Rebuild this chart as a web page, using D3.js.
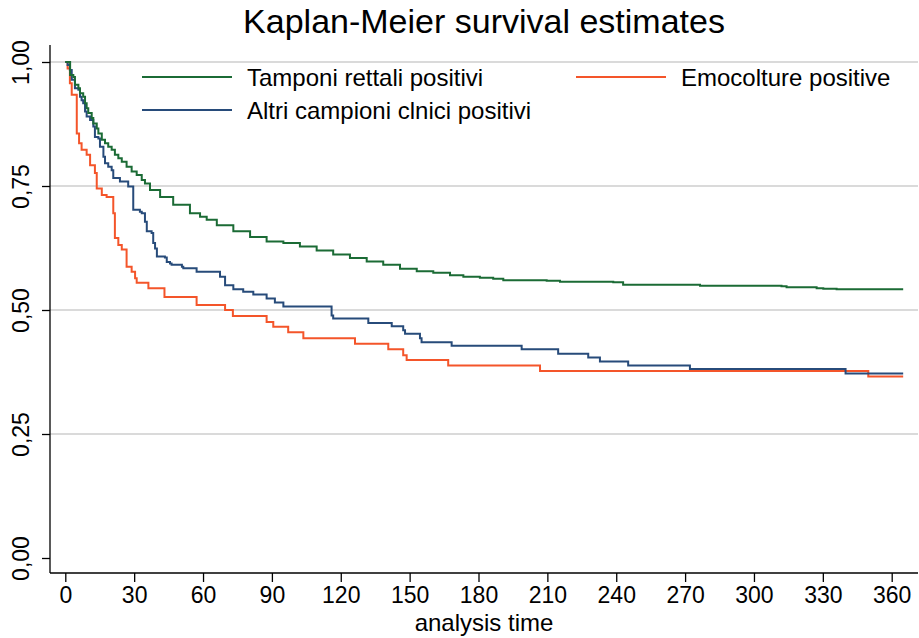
<!DOCTYPE html>
<html>
<head>
<meta charset="utf-8">
<script src="https://cdn.jsdelivr.net/npm/d3@7"></script>
<style>
  html, body { margin: 0; padding: 0; background: #fff; }
  svg { display: block; font-family: "Liberation Sans", Arial, sans-serif; }
</style>
</head>
<body>
<svg id="chart" width="919" height="638"></svg>
<script>
// ---- data ----
const seriesNames = ["Tamponi rettali positivi", "Altri campioni clnici positivi", "Emocolture positive"];
const seriesColors = ["#1b6b35", "#274b7a", "#f4552a"];

const tamponiTime = [0, 2.1, 3.5, 4.2, 5.7, 6.4, 7.8, 8.6, 9.3, 10.0, 11.5, 12.2, 13.7, 14.4, 15.9, 17.3, 18.7, 20.2, 21.6, 23.1, 24.6, 26.7, 28.9, 31.1, 33.3, 34.7, 36.9, 41.3, 47.0, 54.3, 58.7, 61.6, 66.0, 73.2, 80.5, 87.7, 95.0, 102.2, 109.5, 116.7, 124.0, 131.3, 138.5, 145.8, 153.1, 160.3, 167.6, 173.4, 180.6, 186.4, 190.8, 209.7, 215.5, 238.7, 243.0, 276.5, 312.0, 314.2, 327.3, 330.2, 336.0, 365];
const tamponiSurv = [1, 0.974, 0.970, 0.954, 0.947, 0.937, 0.930, 0.917, 0.907, 0.897, 0.887, 0.876, 0.866, 0.856, 0.843, 0.836, 0.829, 0.823, 0.813, 0.806, 0.799, 0.789, 0.779, 0.772, 0.762, 0.755, 0.742, 0.728, 0.712, 0.695, 0.688, 0.682, 0.671, 0.659, 0.647, 0.638, 0.635, 0.628, 0.620, 0.612, 0.605, 0.598, 0.591, 0.583, 0.578, 0.575, 0.570, 0.567, 0.565, 0.563, 0.560, 0.559, 0.557, 0.556, 0.551, 0.549, 0.548, 0.546, 0.544, 0.543, 0.542, 0.542];

const altriTime = [0, 1.0, 2.0, 2.8, 4.2, 5.7, 6.4, 7.1, 7.8, 8.6, 9.3, 10.8, 12.2, 12.9, 14.4, 15.1, 16.6, 17.3, 18.7, 20.2, 20.9, 23.8, 27.4, 29.6, 32.5, 33.3, 34.7, 35.5, 37.6, 38.3, 39.1, 39.9, 43.4, 44.2, 45.6, 46.3, 50.8, 51.4, 57.2, 67.4, 69.6, 73.2, 77.5, 81.9, 87.7, 91.3, 95.0, 116.0, 116.7, 132.0, 142.2, 147.2, 148.0, 154.5, 155.2, 168.3, 198.8, 214.7, 227.8, 232.9, 245.2, 272.1, 339.9, 365];
const altriSurv = [1, 0.994, 0.984, 0.964, 0.947, 0.944, 0.930, 0.923, 0.917, 0.900, 0.890, 0.883, 0.870, 0.849, 0.846, 0.829, 0.809, 0.796, 0.789, 0.782, 0.766, 0.759, 0.749, 0.702, 0.698, 0.695, 0.678, 0.659, 0.655, 0.635, 0.624, 0.608, 0.606, 0.597, 0.594, 0.591, 0.587, 0.584, 0.577, 0.567, 0.550, 0.542, 0.537, 0.531, 0.523, 0.515, 0.507, 0.489, 0.483, 0.474, 0.467, 0.459, 0.452, 0.443, 0.435, 0.428, 0.421, 0.412, 0.404, 0.396, 0.388, 0.381, 0.372, 0.372];

const emoTime = [0, 1.0, 2.0, 2.8, 5.0, 6.0, 7.1, 9.3, 10.8, 12.9, 13.7, 15.9, 18.0, 20.9, 21.6, 23.1, 24.6, 26.7, 28.9, 30.4, 31.1, 36.2, 43.2, 57.2, 69.6, 73.0, 87.7, 90.6, 97.1, 103.7, 126.2, 140.7, 147.2, 148.7, 166.8, 206.8, 349.8, 365];
const emoSurv = [1, 0.987, 0.957, 0.934, 0.856, 0.836, 0.823, 0.813, 0.792, 0.776, 0.745, 0.732, 0.728, 0.695, 0.645, 0.631, 0.622, 0.587, 0.577, 0.564, 0.555, 0.544, 0.526, 0.510, 0.500, 0.488, 0.476, 0.466, 0.455, 0.443, 0.432, 0.421, 0.409, 0.399, 0.388, 0.377, 0.366, 0.366];

const xTicks = [0, 30, 60, 90, 120, 150, 180, 210, 240, 270, 300, 330, 360];
const yTicks = [0, 0.25, 0.5, 0.75, 1];
const yTickLabels = ["0,00", "0,25", "0,50", "0,75", "1,00"];
const gridValues = [0.25, 0.5, 0.75, 1];

// ---- drawing ----
const svg = d3.select("#chart");
const x = d3.scaleLinear().domain([0, 360]).range([65.3, 891.7]);
const y = d3.scaleLinear().domain([0, 1]).range([558, 62]);

const plotLeft = 50, plotRight = 918, plotTop = 45, plotBottom = 573;
const FONT = "Liberation Sans, Arial, sans-serif";

// gridlines
svg.append("g").selectAll("line").data(gridValues).join("line")
  .attr("x1", plotLeft).attr("x2", plotRight)
  .attr("y1", d => y(d)).attr("y2", d => y(d))
  .attr("stroke", "#dadada").attr("stroke-width", 1.8);

// axes lines
svg.append("line").attr("x1", plotLeft).attr("x2", plotLeft).attr("y1", plotTop).attr("y2", plotBottom)
  .attr("stroke", "#000").attr("stroke-width", 1.3);
svg.append("line").attr("x1", plotLeft).attr("x2", plotRight).attr("y1", plotBottom).attr("y2", plotBottom)
  .attr("stroke", "#000").attr("stroke-width", 1.3);

// y axis ticks
const yAxis = d3.axisLeft(y).tickValues(yTicks).tickSize(8).tickFormat((d, i) => yTickLabels[i]);
const gy = svg.append("g").attr("transform", `translate(${plotLeft},0)`).call(yAxis);
gy.select(".domain").remove();
gy.selectAll(".tick line").attr("stroke", "#000").attr("stroke-width", 1.3);
gy.selectAll(".tick text")
  .attr("x", null).attr("dy", null)
  .attr("transform", "translate(-21,0) rotate(-90)")
  .attr("text-anchor", "middle")
  .attr("font-size", 23)
  .attr("font-family", FONT)
  .attr("fill", "#000");

// x axis ticks
const xAxis = d3.axisBottom(x).tickValues(xTicks).tickSize(9).tickFormat(d3.format("d"));
const gx = svg.append("g").attr("transform", `translate(0,${plotBottom})`).call(xAxis);
gx.select(".domain").remove();
gx.selectAll(".tick line").attr("stroke", "#000").attr("stroke-width", 1.3);
gx.selectAll(".tick text")
  .attr("y", 30).attr("dy", null)
  .attr("font-size", 23)
  .attr("font-family", FONT)
  .attr("fill", "#000");

// curves
const series = [
  { t: tamponiTime, s: tamponiSurv },
  { t: altriTime, s: altriSurv },
  { t: emoTime, s: emoSurv }
];
const line = d3.line().x(d => x(d[0])).y(d => y(d[1])).curve(d3.curveStepAfter);
const drawOrder = [2, 1, 0];
drawOrder.forEach(i => {
  const pts = series[i].t.map((t, j) => [t, series[i].s[j]]);
  svg.append("path").datum(pts)
    .attr("d", line)
    .attr("fill", "none")
    .attr("stroke", seriesColors[i])
    .attr("stroke-width", 2);
});

// title
svg.append("text").attr("x", 484).attr("y", 33).attr("text-anchor", "middle")
  .attr("font-size", 34).attr("font-family", FONT).attr("fill", "#000").text("Kaplan-Meier survival estimates");

// x axis title
svg.append("text").attr("x", 484).attr("y", 630.5).attr("text-anchor", "middle")
  .attr("font-size", 24).attr("font-family", FONT).attr("fill", "#000").text("analysis time");

// legend
const legendItems = [
  { i: 0, lx: 142, ly: 77 },
  { i: 1, lx: 142, ly: 110 },
  { i: 2, lx: 576, ly: 77 }
];
const lg = svg.append("g");
legendItems.forEach(it => {
  lg.append("line").attr("x1", it.lx).attr("x2", it.lx + 90).attr("y1", it.ly).attr("y2", it.ly)
    .attr("stroke", seriesColors[it.i]).attr("stroke-width", 2);
  lg.append("text").attr("x", it.lx + 105).attr("y", it.ly + 8.5)
    .attr("font-size", 24).attr("font-family", FONT).attr("fill", "#000").text(seriesNames[it.i]);
});
</script>
</body>
</html>
